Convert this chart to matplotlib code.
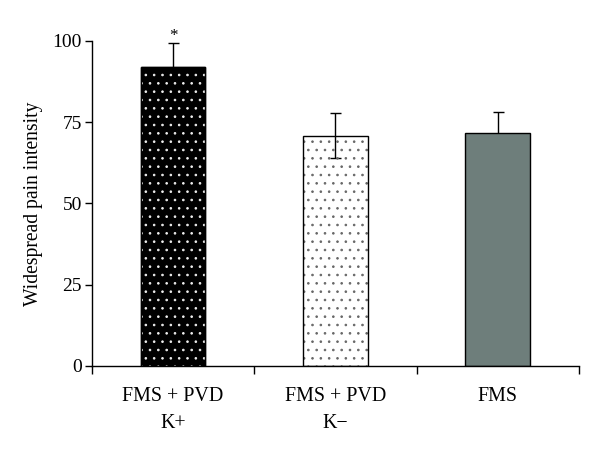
import matplotlib
matplotlib.use("Agg")
import matplotlib.pyplot as plt
from matplotlib.ticker import NullFormatter

plt.rcParams['font.family'] = ['Liberation Serif', 'DejaVu Serif']

categories = ["FMS + PVD\nK+", "FMS + PVD\nK\u2212", "FMS"]
values = [92.0, 70.8, 71.6]
errors = [7.4, 6.9, 6.4]
yticks = [0, 25, 50, 75, 100]

DPI = 100
def px(v):
    return v * 72.0 / DPI

fig = plt.figure(figsize=(600 / DPI, 454 / DPI), dpi=DPI)
ax = fig.add_axes([0.153, 0.194, 0.812, 0.716])

x = list(range(len(categories)))
w = 0.4
lw = px(1.4)

# error bars (behind bars)
ax.errorbar(x, values, yerr=errors, fmt='none', ecolor='black', elinewidth=lw,
            capsize=px(5.5), capthick=lw, zorder=1, clip_on=False)

plt.rcParams['hatch.linewidth'] = px(0.9)
# bar 1: black with white dots
ax.bar(x[0], values[0], width=w, color='black', edgecolor='black', linewidth=lw, zorder=2)
ax.bar(x[0], values[0], width=w, facecolor='none', edgecolor='#f0f0f0', hatch='..', linewidth=0, zorder=3)
ax.bar(x[0], values[0], width=w, facecolor='none', edgecolor='black', linewidth=lw, zorder=4)
# bar 2: transparent with fine dark dots
ax.bar(x[1], values[1], width=w, facecolor='none', edgecolor='#666666', hatch='..', linewidth=0, zorder=2)
ax.bar(x[1], values[1], width=w, facecolor='none', edgecolor='black', linewidth=lw, zorder=3)
# bar 3: gray
ax.bar(x[2], values[2], width=w, color='#6e7e7b', edgecolor='black', linewidth=lw, zorder=2)

ax.text(x[0], values[0] + errors[0] + 2.2, '*', ha='center', va='center', fontsize=px(17))

ax.set_xlim(-0.5, 2.5)
ax.set_ylim(0, 100)
ax.set_yticks(yticks)
ax.set_xticks([-0.5, 0.5, 1.5, 2.5])
ax.xaxis.set_major_formatter(NullFormatter())
ax.set_xticks(x, minor=True)
ax.set_xticklabels(categories, minor=True, fontsize=px(20), linespacing=1.55)
ax.tick_params(axis='x', which='minor', length=0, pad=px(21))
ax.tick_params(axis='x', which='major', length=px(8), width=lw, direction='out')
ax.tick_params(axis='y', length=px(7), width=lw, direction='out', labelsize=px(19.5), pad=px(3))

for s in ['top', 'right']:
    ax.spines[s].set_visible(False)
for s in ['left', 'bottom']:
    ax.spines[s].set_linewidth(lw)

ax.set_ylabel('Widespread pain intensity', fontsize=px(19.7), labelpad=px(9))

fig.savefig('out.png', dpi=DPI)
